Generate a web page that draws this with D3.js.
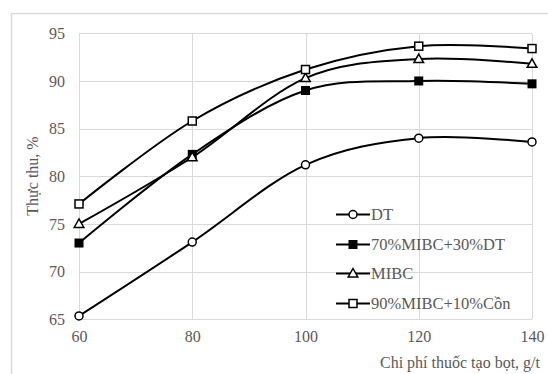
<!DOCTYPE html>
<html>
<head>
<meta charset="utf-8">
<script src="https://cdn.jsdelivr.net/npm/d3@7/dist/d3.min.js"></script>
<style>
  html, body { margin: 0; padding: 0; background: #fff; }
  svg { display: block; }
  svg text { font-family: "Liberation Serif", "Times New Roman", "DejaVu Serif", serif !important; fill: #595959; }
</style>
</head>
<body>
<svg id="chart" width="548" height="374" font-family="Liberation Serif, serif"></svg>
<script>
// Frother dosage (g/t)
const dosages = [60, 80, 100, 120, 140];
// Recovery (%) for each frother
const seriesNames = ["DT", "70%MIBC+30%DT", "MIBC", "90%MIBC+10%Cồn"];
const recDT = [65.35, 73.1, 81.2, 84.0, 83.6];
const recMix7030 = [73.0, 82.3, 89.0, 90.0, 89.7];
const recMIBC = [75.0, 82.0, 90.3, 92.3, 91.8];
const recMix9010 = [77.1, 85.8, 91.2, 93.65, 93.4];
const yTicks = [65, 70, 75, 80, 85, 90, 95];
const xTicks = [60, 80, 100, 120, 140];
const markerKinds = ["circle", "filledSquare", "triangle", "square"];

const SERIF = '"Liberation Serif", "Times New Roman", serif';
const svg = d3.select("#chart");
const W = 548, H = 374;

const x = d3.scaleLinear().domain([60, 140]).range([79, 532]);
const y = d3.scaleLinear().domain([65, 95]).range([319.3, 33.3]);

// Outer chart frame
svg.append("path")
  .attr("d", `M11.5,${H}V13.5H${W}`)
  .attr("fill", "none")
  .attr("stroke", "#d9d9d9")
  .attr("stroke-width", 1.5);

// Gridlines
const grid = svg.append("g").attr("stroke", "#d9d9d9").attr("stroke-width", 1);
grid.selectAll("line.h").data(yTicks).join("line")
  .attr("x1", x(60)).attr("x2", x(140))
  .attr("y1", d => Math.round(y(d)) + 0.5).attr("y2", d => Math.round(y(d)) + 0.5);
grid.selectAll("line.v").data(xTicks).join("line")
  .attr("y1", y(65)).attr("y2", y(95))
  .attr("x1", d => Math.round(x(d)) + 0.5).attr("x2", d => Math.round(x(d)) + 0.5);

// Axes (labels only)
const yAxis = svg.append("g").attr("transform", `translate(${x(60)},0)`)
  .call(d3.axisLeft(y).tickValues(yTicks).tickSize(0).tickPadding(14));
yAxis.attr("font-family", SERIF).attr("font-size", 16);
yAxis.select(".domain").remove();
yAxis.selectAll("text").style("font-family", SERIF).attr("fill", "#595959");

const xAxis = svg.append("g").attr("transform", `translate(0,${y(65)})`)
  .call(d3.axisBottom(x).tickValues(xTicks).tickSize(0).tickPadding(11));
xAxis.attr("font-family", SERIF).attr("font-size", 16);
xAxis.select(".domain").remove();
xAxis.selectAll("text").style("font-family", SERIF).attr("fill", "#595959");

// Axis titles
svg.append("text")
  .attr("transform", "translate(38,176) rotate(-90)")
  .attr("text-anchor", "middle")
  .attr("font-size", 16)
  .style("font-family", SERIF)
  .text("Thực thu, %");
svg.append("text")
  .attr("x", 540).attr("y", 368)
  .attr("text-anchor", "end")
  .attr("font-size", 16)
  .style("font-family", SERIF)
  .text("Chi phí thuốc tạo bọt, g/t");

// Marker drawing
function drawMarker(g, kind, cx, cy) {
  if (kind === "circle") {
    g.append("circle").attr("cx", cx).attr("cy", cy).attr("r", 4)
      .attr("fill", "#fff").attr("stroke", "#000").attr("stroke-width", 1.5);
  } else if (kind === "filledSquare") {
    g.append("rect").attr("x", cx - 4.5).attr("y", cy - 4.5).attr("width", 9).attr("height", 9)
      .attr("fill", "#000");
  } else if (kind === "square") {
    g.append("rect").attr("x", cx - 4).attr("y", cy - 4).attr("width", 8).attr("height", 8)
      .attr("fill", "#fff").attr("stroke", "#000").attr("stroke-width", 1.5);
  } else if (kind === "triangle") {
    g.append("path")
      .attr("d", `M${cx},${cy - 5}L${cx + 4.8},${cy + 3.5}L${cx - 4.8},${cy + 3.5}Z`)
      .attr("fill", "#fff").attr("stroke", "#000").attr("stroke-width", 1.5);
  }
}

const allSeries = [recDT, recMix7030, recMIBC, recMix9010];
const line = d3.line()
  .x((d, i) => x(dosages[i]))
  .y(d => y(d))
  .curve(d3.curveCatmullRom.alpha(0));

allSeries.forEach((vals, k) => {
  const g = svg.append("g");
  g.append("path").attr("d", line(vals))
    .attr("fill", "none").attr("stroke", "#000").attr("stroke-width", 2);
  vals.forEach((v, i) => drawMarker(g, markerKinds[k], x(dosages[i]), y(v)));
});

// Legend
const legendY = [214.5, 244.5, 273.5, 303.5];
seriesNames.forEach((name, k) => {
  const g = svg.append("g");
  g.append("line").attr("x1", 336).attr("x2", 370)
    .attr("y1", legendY[k]).attr("y2", legendY[k])
    .attr("stroke", "#000").attr("stroke-width", 2);
  drawMarker(g, markerKinds[k], 353, legendY[k]);
  g.append("text").attr("x", 371).attr("y", legendY[k] + 5.5)
    .attr("font-size", 16.5)
    .style("font-family", SERIF)
    .text(name);
});
</script>
</body>
</html>
